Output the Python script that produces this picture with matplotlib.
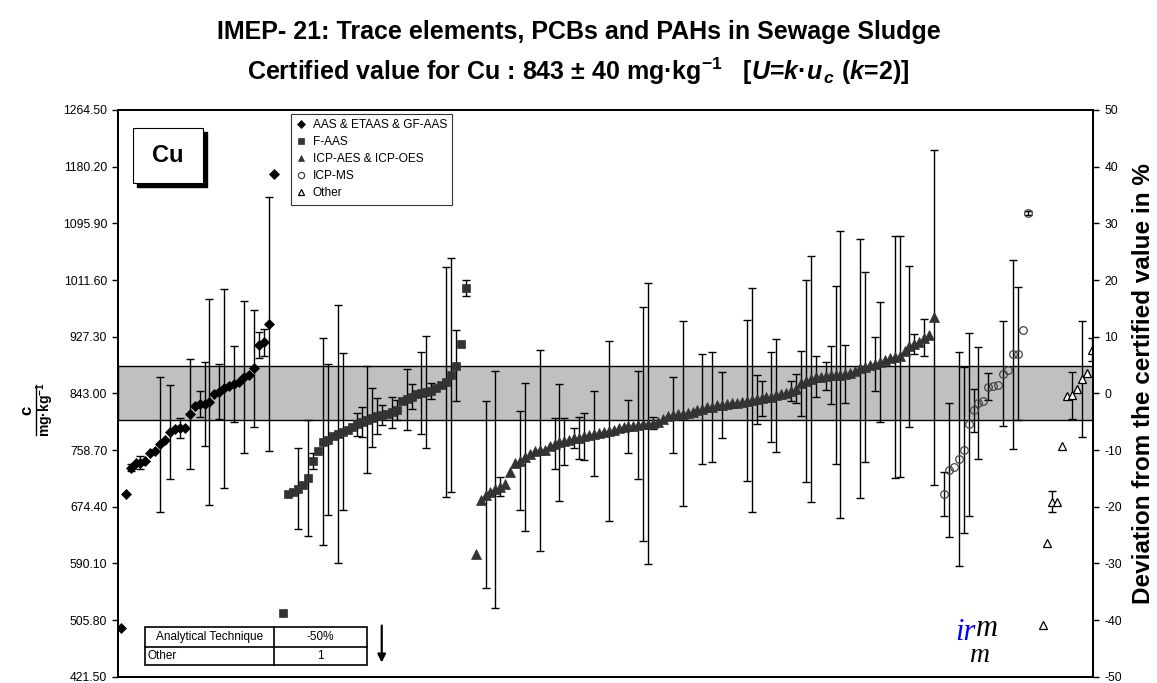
import numpy as np
import matplotlib
matplotlib.use("Agg")
import matplotlib.pyplot as plt
from matplotlib.patches import Rectangle
from matplotlib.lines import Line2D
from matplotlib.ticker import FormatStrFormatter

plt.rcParams["font.family"] = ["Liberation Sans", "DejaVu Sans"]
plt.rcParams["axes.unicode_minus"] = False
plt.rcParams["mathtext.fontset"] = "custom"
plt.rcParams["mathtext.rm"] = "Liberation Sans:bold"
plt.rcParams["mathtext.bf"] = "Liberation Sans:bold"
plt.rcParams["mathtext.it"] = "Liberation Sans:bold:italic"

# certified value and expanded uncertainty (mg/kg)
certified = 843.0
uncert = 40.0

groups = ["AAS & ETAAS & GF-AAS", "F-AAS", "ICP-AES & ICP-OES", "ICP-MS", "Other"]
# empty lab slots in front of each group
gaps = [0, 1, 1, 1, 2]

aas_val = [493.5, 692.8, 732.4, 739, 740, 743, 754.7, 757, 767, 773.6,
           786, 789.5, 791, 791, 811.8, 824, 827, 827, 830.6, 842,
           845.5, 850.5, 854, 857, 860.4, 867, 870, 880, 914.9, 919,
           946.1, 1169.3]
aas_err = [0, 0, 5, 0, 10, 0, 0, 0, 100, 0,
           70, 0, 15, 0, 82, 0, 19, 62, 153, 0,
           41, 148, 0, 56, 0, 113, 0, 87, 20, 20,
           189, 0]

faas_val = [516.7, 693, 696, 701, 706, 717, 743, 757, 771, 774,
            779, 782, 786, 789, 793, 797, 800, 804, 807, 809,
            811, 813, 815, 818, 831, 834, 838, 842, 844, 845,
            847, 851, 856, 860, 870, 884, 917, 1000]
faas_err = [0, 0, 0, 60, 0, 86, 12, 0, 154, 112,
            0, 192, 117, 0, 0, 17, 22, 80, 44, 27,
            15, 0, 23, 15, 0, 45, 19, 0, 61, 84,
            12, 0, 0, 171, 174, 53, 0, 12]

aes_val = [604, 684, 692, 696, 700, 704, 708, 726, 739, 743,
           748, 753, 757, 758, 759, 765, 768, 770, 772, 774,
           776, 777, 779, 781, 783, 784, 786, 787, 789, 791,
           793, 794, 795, 796, 797, 798, 799, 801, 805, 809,
           811, 812, 813, 814, 816, 818, 820, 822, 823, 825,
           826, 827, 828, 829, 830, 832, 833, 834, 836, 837,
           838, 840, 842, 844, 847, 850, 858, 861, 865, 868,
           868, 869, 870, 870, 871, 872, 873, 876, 880, 882,
           885, 887, 890, 892, 895, 897, 898, 906, 913, 916,
           920, 926, 930, 956]
aes_err = [0, 0, 139, 0, 176, 14, 0, 0, 0, 74,
           110, 0, 0, 150, 0, 0, 38, 87, 35, 0,
           15, 31, 35, 0, 63, 0, 0, 134, 0, 0,
           0, 39, 0, 80, 174, 209, 9, 0, 0, 0,
           56, 0, 138, 0, 0, 0, 82, 0, 82, 0,
           49, 0, 0, 0, 0, 120, 167, 36, 26, 0,
           67, 84, 0, 0, 15, 22, 48, 150, 183, 30,
           0, 21, 43, 132, 213, 43, 0, 0, 192, 141,
           0, 40, 89, 0, 0, 180, 179, 0, 120, 15,
           0, 27, 0, 249]

ms_val = [693, 729, 734, 745, 759, 797, 818, 829, 832, 853,
          854, 856, 872, 877, 901, 902, 937, 1111]
ms_err = [33, 100, 0, 159, 123, 136, 32, 83, 0, 20,
          0, 0, 78, 0, 141, 99, 0, 3]

other_val = [498, 621, 682, 682, 765, 839, 840, 850, 864, 873, 908]
other_err = [0, 0, 15, 0, 0, 0, 35, 0, 86, 0, 17]

values = [aas_val, faas_val, aes_val, ms_val, other_val]
errors = [aas_err, faas_err, aes_err, ms_err, other_err]

styles = [
    dict(marker="D", color="black", mfc="black", ms=5.5),
    dict(marker="s", color="#333333", mfc="#333333", ms=6),
    dict(marker="^", color="#333333", mfc="#333333", ms=6.5),
    dict(marker="o", color="#444444", mfc="none", ms=5.5, mew=0.9),
    dict(marker="^", color="black", mfc="white", ms=6, mew=0.9),
]

W, H = 1157, 683
fig = plt.figure(figsize=(W / 100, H / 100), dpi=100)
ax = fig.add_axes([118.3 / W, 1 - 676.7 / H, 975 / W, 566.7 / H])

ax.axhspan(certified - uncert, certified + uncert, facecolor="#c0c0c0",
           edgecolor="black", linewidth=1.0, zorder=1)

pos = 0
for name, vals, errs, gap, st in zip(groups, values, errors, gaps, styles):
    pos += gap
    x = np.arange(pos + 1, pos + 1 + len(vals))
    pos += len(vals)
    v = np.array(vals, dtype=float)
    e = np.array(errs, dtype=float)
    m = e > 0
    ax.errorbar(x[m], v[m], yerr=e[m], fmt="none", ecolor="black",
                elinewidth=1.0, capsize=3.2, capthick=1.0, zorder=2)
    ax.plot(x, v, linestyle="none", marker=st["marker"], color=st["color"],
            markerfacecolor=st["mfc"], markeredgecolor=st["color"],
            markersize=st["ms"], markeredgewidth=st.get("mew", 0.5),
            zorder=3, label=name)

ax.set_xlim(0.5, pos + 0.3)
ax.set_xticks([])
ax.set_ylim(421.5, 1264.5)
ax.set_yticks(np.linspace(421.5, 1264.5, 11))
ax.yaxis.set_major_formatter(FormatStrFormatter("%.2f"))
ax.tick_params(axis="y", labelsize=8.8, length=4, width=1, pad=4)
for s in ax.spines.values():
    s.set_linewidth(1.4)

ax2 = ax.twinx()
ax2.set_ylim(-50, 50)
ax2.set_yticks(np.arange(-50, 51, 10))
ax2.tick_params(axis="y", labelsize=8.8, length=4, width=1, pad=4)
for s in ax2.spines.values():
    s.set_linewidth(1.4)
fig.text(1143 / W, 1 - 384 / H, "Deviation from the certified value in %",
         rotation=90, ha="center", va="center", fontsize=17.5, fontweight="bold")

leg = ax.legend(handles=[Line2D([], [], linestyle="none", marker=st["marker"],
                                color=st["color"], markerfacecolor=st["mfc"],
                                markeredgecolor=st["color"], markersize=4.5,
                                markeredgewidth=st.get("mew", 0.5))
                         for st in styles],
                labels=groups, loc="upper left",
                bbox_to_anchor=(290.7 / W, 1 - 114 / H), bbox_transform=fig.transFigure,
                fontsize=8.6, frameon=True, fancybox=False, edgecolor="black",
                handlelength=0.8, handletextpad=0.6, borderpad=0.45,
                labelspacing=0.42, borderaxespad=0)
leg.get_frame().set_linewidth(0.8)

# titles
fig.text(0.5, 1 - 32 / H, "IMEP- 21: Trace elements, PCBs and PAHs in Sewage Sludge",
         ha="center", va="center", fontsize=18, fontweight="bold")
fig.text(0.5, 1 - 71 / H,
         "Certified value for Cu : 843 \u00b1 40 mg\u00b7kg$^{-1}$   "
         "[$U$=$k$\u00b7$u_{\\,c}$ $(k$=$2)$]",
         ha="center", va="center", fontsize=18, fontweight="bold")

# left axis label as a fraction
fig.text(27 / W, 1 - 410 / H, "c", rotation=90, ha="center", va="center",
         fontsize=12, fontweight="bold")
fig.add_artist(Line2D([36 / W, 36 / W], [1 - 385 / H, 1 - 435 / H],
                      color="black", linewidth=1))
fig.text(45 / W, 1 - 410 / H, "mg\u00b7kg$^{-1}$", rotation=90, ha="center",
         va="center", fontsize=10, fontweight="bold")

# element box with shadow
fig.add_artist(Rectangle((137.3 / W, 1 - 187.3 / H), 69.4 / W, 55 / H,
                         transform=fig.transFigure, facecolor="black",
                         edgecolor="black"))
fig.add_artist(Rectangle((133.3 / W, 1 - 183.3 / H), 69.4 / W, 55 / H,
                         transform=fig.transFigure, facecolor="white",
                         edgecolor="black", linewidth=0.8))
fig.text(168 / W, 1 - 156 / H, "Cu", ha="center", va="center",
         fontsize=17, fontweight="bold")

# small table in the lower left corner
tx0, tx1, tx2 = 145, 274, 367.3
ty0, ty1, ty2 = 627.3, 646.7, 665
fig.add_artist(Rectangle((tx0 / W, 1 - ty2 / H), (tx2 - tx0) / W, (ty2 - ty0) / H,
                         transform=fig.transFigure, facecolor="white",
                         edgecolor="black", linewidth=1.2))
fig.add_artist(Line2D([tx0 / W, tx2 / W], [1 - ty1 / H, 1 - ty1 / H],
                      color="black", linewidth=1.2))
fig.add_artist(Line2D([tx1 / W, tx1 / W], [1 - ty0 / H, 1 - ty2 / H],
                      color="black", linewidth=1.2))
fig.text((tx0 + tx1) / 2 / W, 1 - (ty0 + ty1) / 2 / H, "Analytical Technique",
         ha="center", va="center", fontsize=8.5)
fig.text((tx1 + tx2) / 2 / W, 1 - (ty0 + ty1) / 2 / H, "-50%",
         ha="center", va="center", fontsize=8.5)
fig.text((tx0 + 2) / W, 1 - (ty1 + ty2) / 2 / H, "Other",
         ha="left", va="center", fontsize=8.5)
fig.text((tx1 + tx2) / 2 / W, 1 - (ty1 + ty2) / 2 / H, "1",
         ha="center", va="center", fontsize=8.5)
fig.add_artist(plt.annotate("", xy=(381.7 / W, 1 - 665 / H), xycoords="figure fraction",
                            xytext=(381.7 / W, 1 - 622.7 / H),
                            textcoords="figure fraction",
                            arrowprops=dict(arrowstyle="-|>", color="black",
                                            lw=1.3, mutation_scale=12)))

# logo
fig.text(955 / W, 1 - 632 / H, "ir", color="blue", fontsize=22, style="italic",
         family="Liberation Serif", ha="left", va="center")
fig.text(976 / W, 1 - 629 / H, "m", color="black", fontsize=22, style="italic",
         family="Liberation Serif", ha="left", va="center")
fig.text(970 / W, 1 - 655 / H, "m", color="black", fontsize=20, style="italic",
         family="Liberation Serif", ha="left", va="center")

fig.savefig("out.png", dpi=100)
